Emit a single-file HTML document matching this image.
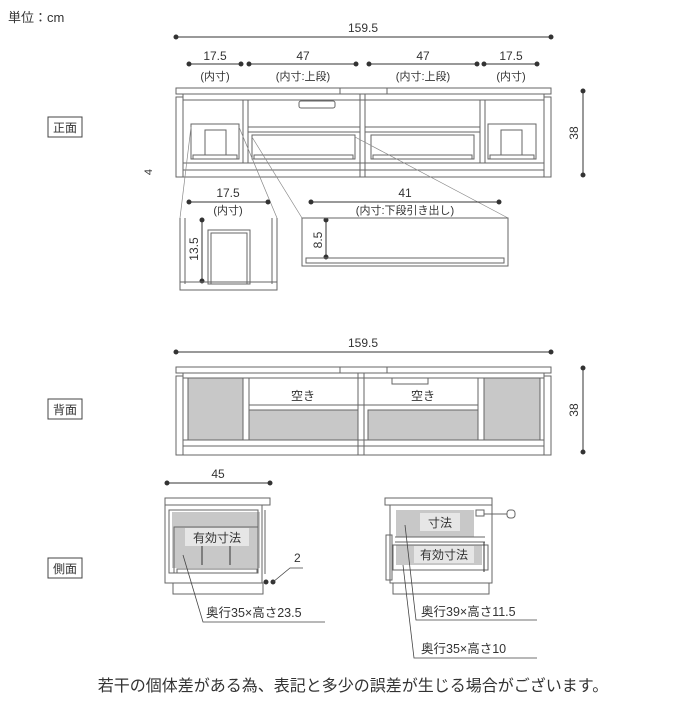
<!DOCTYPE html>
<html><head><meta charset="utf-8"><style>
body{margin:0;background:#fff}
svg text{font-family:"Liberation Sans","Noto Sans CJK JP",sans-serif;fill:#333}
</style></head><body>
<svg width="700" height="700" viewBox="0 0 700 700" xmlns="http://www.w3.org/2000/svg">
<text x="8" y="22" font-size="13">単位：cm</text>
<rect x="48" y="117" width="34" height="20" fill="none" stroke="#444"/>
<text x="65" y="132" font-size="12" text-anchor="middle">正面</text>
<rect x="48" y="399" width="34" height="20" fill="none" stroke="#444"/>
<text x="65" y="414" font-size="12" text-anchor="middle">背面</text>
<rect x="48" y="558" width="34" height="20" fill="none" stroke="#444"/>
<text x="65" y="573" font-size="12" text-anchor="middle">側面</text>

<!-- FRONT -->
<g stroke="#333" fill="#333">
<line x1="176" y1="37" x2="551" y2="37"/><circle cx="176" cy="37" r="2"/><circle cx="551" cy="37" r="2"/>
<line x1="189" y1="64" x2="241" y2="64"/><circle cx="189" cy="64" r="2"/><circle cx="241" cy="64" r="2"/>
<line x1="249" y1="64" x2="356" y2="64"/><circle cx="249" cy="64" r="2"/><circle cx="356" cy="64" r="2"/>
<line x1="369" y1="64" x2="477" y2="64"/><circle cx="369" cy="64" r="2"/><circle cx="477" cy="64" r="2"/>
<line x1="484" y1="64" x2="537" y2="64"/><circle cx="484" cy="64" r="2"/><circle cx="537" cy="64" r="2"/>
<line x1="583" y1="91" x2="583" y2="175"/><circle cx="583" cy="91" r="2"/><circle cx="583" cy="175" r="2"/>
</g>
<text x="363" y="32" font-size="12" text-anchor="middle">159.5</text>
<text x="215" y="60" font-size="12" text-anchor="middle">17.5</text>
<text x="303" y="60" font-size="12" text-anchor="middle">47</text>
<text x="423" y="60" font-size="12" text-anchor="middle">47</text>
<text x="511" y="60" font-size="12" text-anchor="middle">17.5</text>
<text x="215" y="80" font-size="11" text-anchor="middle">(内寸)</text>
<text x="303" y="80" font-size="11" text-anchor="middle">(内寸:上段)</text>
<text x="423" y="80" font-size="11" text-anchor="middle">(内寸:上段)</text>
<text x="511" y="80" font-size="11" text-anchor="middle">(内寸)</text>
<text x="578" y="133" font-size="12" transform="rotate(-90 578 133)" text-anchor="middle">38</text>
<text x="152" y="172" font-size="11" transform="rotate(-90 152 172)" text-anchor="middle">4</text>

<g fill="none" stroke="#666" stroke-width="1">
<rect x="176" y="88" width="375" height="6"/>
<line x1="340" y1="88" x2="340" y2="94"/><line x1="387" y1="88" x2="387" y2="94"/>
<rect x="176" y="97" width="7" height="80"/><rect x="544" y="97" width="7" height="80"/>
<rect x="183" y="94" width="361" height="83"/>
<line x1="183" y1="100" x2="544" y2="100"/>
<line x1="183" y1="163" x2="544" y2="163"/>
<line x1="183" y1="170" x2="544" y2="170"/>
<line x1="243" y1="100" x2="243" y2="163"/><line x1="248" y1="100" x2="248" y2="163"/>
<line x1="360" y1="94" x2="360" y2="177"/><line x1="365" y1="94" x2="365" y2="177"/>
<line x1="480" y1="100" x2="480" y2="163"/><line x1="485" y1="100" x2="485" y2="163"/>
<line x1="248" y1="127" x2="360" y2="127"/><line x1="248" y1="132" x2="360" y2="132"/>
<line x1="365" y1="127" x2="480" y2="127"/><line x1="365" y1="132" x2="480" y2="132"/>
<rect x="252" y="135" width="103" height="24"/><rect x="254" y="155" width="99" height="4"/>
<rect x="371" y="135" width="103" height="24"/><rect x="373" y="155" width="99" height="4"/>
<rect x="191" y="124" width="48" height="35"/><rect x="193" y="155" width="44" height="4"/>
<rect x="205" y="130" width="21" height="25"/>
<rect x="488" y="124" width="48" height="35"/><rect x="490" y="155" width="44" height="4"/>
<rect x="501" y="130" width="21" height="25"/>
<rect x="299" y="101" width="36" height="7" rx="2"/>
</g>
<g stroke="#888" stroke-width="0.7" fill="none">
<line x1="191" y1="127" x2="180" y2="218"/><line x1="239" y1="127" x2="277" y2="218"/>
<line x1="252" y1="137" x2="302" y2="218"/><line x1="355" y1="137" x2="508" y2="218"/>
</g>
<g stroke="#333" fill="#333">
<line x1="189" y1="202" x2="268" y2="202"/><circle cx="189" cy="202" r="2"/><circle cx="268" cy="202" r="2"/>
<line x1="311" y1="202" x2="499" y2="202"/><circle cx="311" cy="202" r="2"/><circle cx="499" cy="202" r="2"/>
<line x1="202" y1="220" x2="202" y2="281"/><circle cx="202" cy="220" r="2"/><circle cx="202" cy="281" r="2"/>
<line x1="326" y1="220" x2="326" y2="257"/><circle cx="326" cy="220" r="2"/><circle cx="326" cy="257" r="2"/>
</g>
<text x="228" y="197" font-size="12" text-anchor="middle">17.5</text>
<text x="228" y="214" font-size="11" text-anchor="middle">(内寸)</text>
<text x="405" y="197" font-size="12" text-anchor="middle">41</text>
<text x="405" y="214" font-size="11" text-anchor="middle">(内寸:下段引き出し)</text>
<text x="198" y="249" font-size="12" transform="rotate(-90 198 249)" text-anchor="middle">13.5</text>
<text x="322" y="240" font-size="12" transform="rotate(-90 322 240)" text-anchor="middle">8.5</text>
<g fill="none" stroke="#666">
<path d="M180 218 V290 M185 218 V284 M277 218 V290 M272 218 V284"/>
<rect x="180" y="282" width="97" height="8"/>
<rect x="208" y="230" width="42" height="54"/><rect x="211" y="233" width="36" height="51"/>
<rect x="302" y="218" width="206" height="48"/>
<rect x="306" y="258" width="198" height="5"/>
</g>

<!-- BACK -->
<g stroke="#333" fill="#333">
<line x1="176" y1="352" x2="551" y2="352"/><circle cx="176" cy="352" r="2"/><circle cx="551" cy="352" r="2"/>
<line x1="583" y1="368" x2="583" y2="452"/><circle cx="583" cy="368" r="2"/><circle cx="583" cy="452" r="2"/>
</g>
<text x="363" y="347" font-size="12" text-anchor="middle">159.5</text>
<text x="578" y="410" font-size="12" transform="rotate(-90 578 410)" text-anchor="middle">38</text>
<g fill="#c8c8c8" stroke="#666">
<rect x="188" y="378" width="55" height="62"/>
<rect x="249" y="410" width="109" height="30"/>
<rect x="368" y="410" width="110" height="30"/>
<rect x="484" y="378" width="56" height="62"/>
</g>
<g fill="none" stroke="#666">
<rect x="176" y="367" width="375" height="6"/>
<line x1="340" y1="367" x2="340" y2="373"/><line x1="387" y1="367" x2="387" y2="373"/>
<rect x="176" y="376" width="7" height="79"/><rect x="544" y="376" width="7" height="79"/>
<rect x="183" y="373" width="361" height="82"/>
<line x1="183" y1="378" x2="544" y2="378"/>
<line x1="183" y1="440" x2="544" y2="440"/><line x1="183" y1="446" x2="544" y2="446"/>
<line x1="243" y1="378" x2="243" y2="440"/><line x1="249" y1="378" x2="249" y2="440"/>
<line x1="358" y1="373" x2="358" y2="455"/><line x1="364" y1="373" x2="364" y2="455"/>
<line x1="478" y1="378" x2="478" y2="440"/><line x1="484" y1="378" x2="484" y2="440"/>
<line x1="249" y1="405" x2="478" y2="405"/>
<path d="M392 378 V384 H428 V378"/>
</g>
<text x="303" y="400" font-size="12" text-anchor="middle">空き</text>
<text x="423" y="400" font-size="12" text-anchor="middle">空き</text>

<!-- SIDE -->
<g stroke="#333" fill="#333">
<line x1="167" y1="483" x2="270" y2="483"/><circle cx="167" cy="483" r="2"/><circle cx="270" cy="483" r="2"/>
<circle cx="266" cy="582" r="2"/><circle cx="273" cy="582" r="2"/>
</g>
<text x="218" y="478" font-size="12" text-anchor="middle">45</text>
<g fill="#c8c8c8" stroke="none">
<rect x="172" y="512" width="88" height="56"/>
<rect x="396" y="510" width="78" height="27"/>
<rect x="396" y="545" width="86" height="20"/>
</g>
<g fill="none" stroke="#666">
<rect x="165" y="498" width="105" height="7"/>
<rect x="165" y="505" width="97" height="78"/>
<rect x="169" y="510" width="89" height="63"/>
<line x1="262" y1="505" x2="262" y2="583"/><line x1="265" y1="510" x2="265" y2="574"/>
<rect x="174" y="527" width="84" height="46"/><rect x="177" y="569" width="80" height="4"/>
<rect x="173" y="583" width="90" height="11"/>
<line x1="202" y1="543" x2="202" y2="565" stroke="#333"/><line x1="230" y1="543" x2="230" y2="565" stroke="#333"/>
<rect x="385" y="498" width="107" height="7"/>
<rect x="390" y="505" width="102" height="78"/>
<rect x="386" y="535" width="6" height="45"/>
<line x1="395" y1="537" x2="485" y2="537"/><line x1="395" y1="542" x2="485" y2="542"/>
<rect x="393" y="545" width="95" height="25"/>
<rect x="393" y="583" width="96" height="11"/>
<line x1="484" y1="542" x2="484" y2="572" stroke="#333"/>
<rect x="476" y="510" width="8" height="6"/>
<line x1="484" y1="514" x2="507" y2="514"/><rect x="507" y="510" width="8" height="8" rx="3"/>
</g>
<rect x="185" y="528" width="64" height="18" fill="#e6e6e6"/>
<text x="217" y="542" font-size="12" text-anchor="middle">有効寸法</text>
<rect x="420" y="513" width="40" height="18" fill="#e6e6e6"/>
<text x="440" y="527" font-size="12" text-anchor="middle">寸法</text>
<rect x="414" y="546" width="60" height="17" fill="#e6e6e6"/>
<text x="444" y="559" font-size="12" text-anchor="middle">有効寸法</text>
<text x="294" y="562" font-size="12">2</text>
<g stroke="#444" fill="none" stroke-width="0.8">
<path d="M273 582 L290 568 H303"/>
<path d="M183 555 L203 622 H325"/>
<path d="M405 525 L416 620 H537"/>
<path d="M403 565 L414 658 H537"/>
</g>
<text x="206" y="617" font-size="12.5">奥行35×高さ23.5</text>
<text x="421" y="616" font-size="12.5">奥行39×高さ11.5</text>
<text x="421" y="653" font-size="12.5">奥行35×高さ10</text>
<text x="353" y="691" font-size="16" text-anchor="middle">若干の個体差がある為、表記と多少の誤差が生じる場合がございます。</text>
</svg>
</body></html>
